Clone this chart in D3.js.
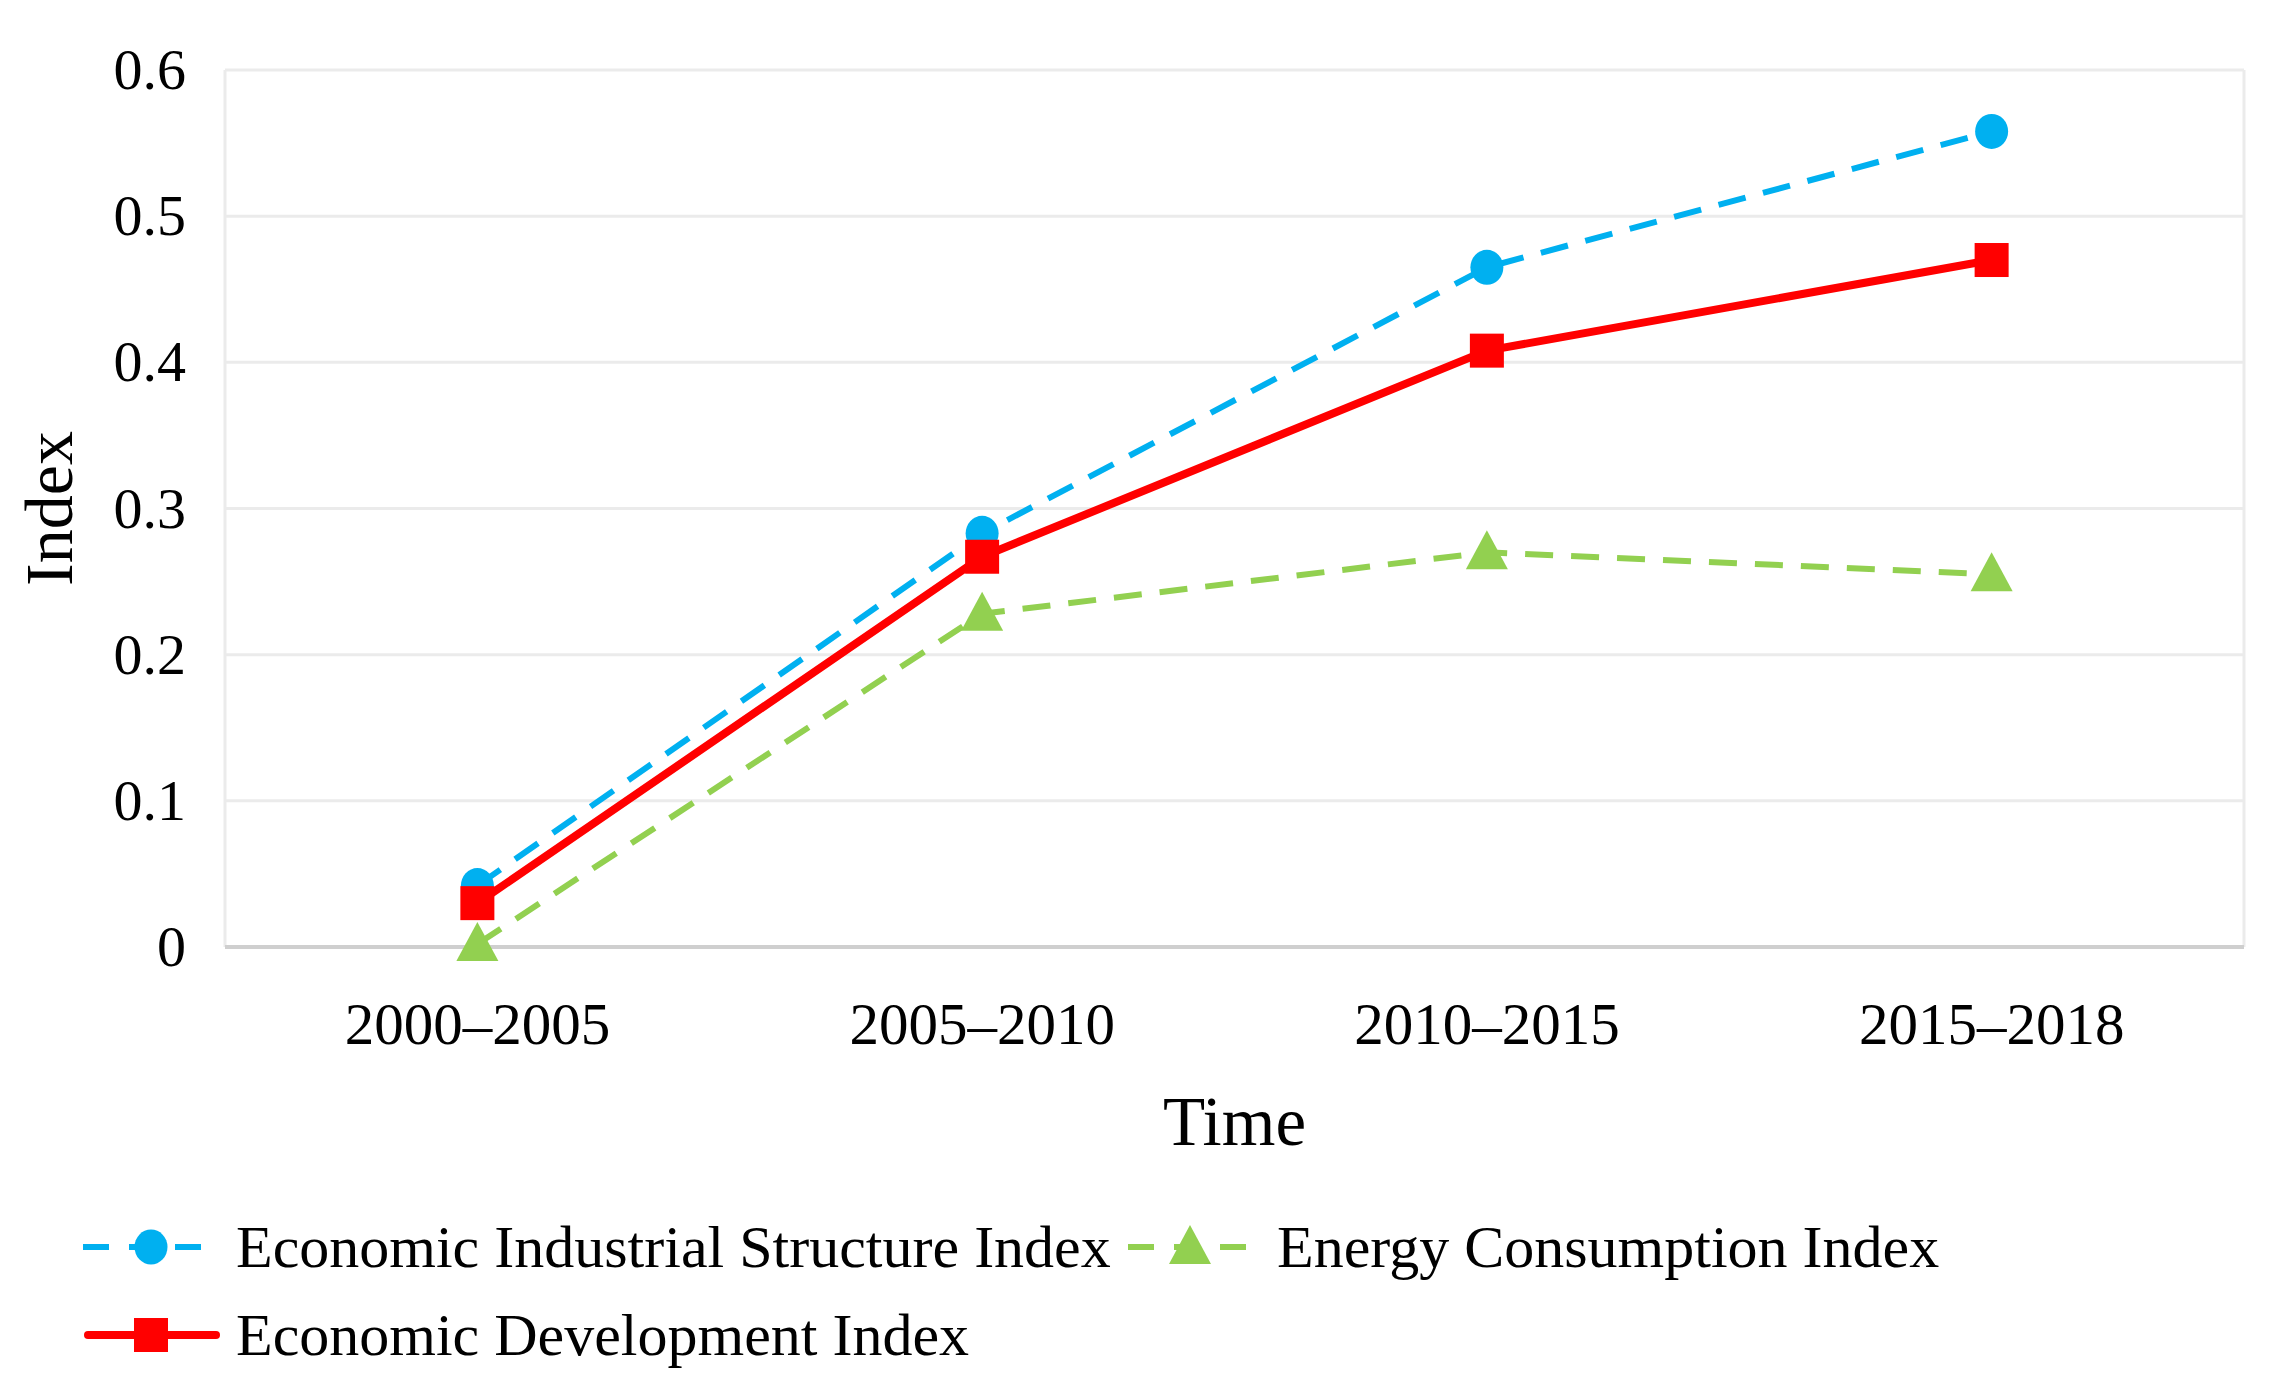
<!DOCTYPE html>
<html>
<head>
<meta charset="utf-8">
<script src="https://cdn.jsdelivr.net/npm/d3@7/dist/d3.min.js"></script>
<style>
  html, body { margin: 0; padding: 0; background: #ffffff; }
  svg { display: block; font-family: "Liberation Serif", "Times New Roman", serif; }
</style>
</head>
<body>
<svg id="chart" width="2273" height="1386"></svg>
<script>
// ---- data ----
const categories = ["2000\u20132005", "2005\u20132010", "2010\u20132015", "2015\u20132018"];
const structureValues = [0.042, 0.283, 0.465, 0.558];
const energyValues = [0.002, 0.228, 0.270, 0.255];
const developmentValues = [0.030, 0.267, 0.408, 0.470];
const yTicks = [0, 0.1, 0.2, 0.3, 0.4, 0.5, 0.6];
const yTickLabels = ["0", "0.1", "0.2", "0.3", "0.4", "0.5", "0.6"];
const seriesNames = ["Economic Industrial Structure Index", "Energy Consumption Index", "Economic Development Index"];

// ---- layout ----
const W = 2273, H = 1386;
const plot = { left: 225, right: 2244, top: 70, bottom: 947 };
const svg = d3.select("#chart");
svg.append("rect").attr("width", W).attr("height", H).attr("fill", "#fff");

const x = d3.scaleBand().domain(categories).range([plot.left, plot.right]).padding(0);
const y = d3.scaleLinear().domain([0, 0.6]).range([plot.bottom, plot.top]);
const cx = d => x(d) + x.bandwidth() / 2;

// gridlines
const gridColor = "#ebebeb";
svg.append("g").selectAll("line").data(yTicks.filter(t => t > 0)).join("line")
  .attr("x1", plot.left).attr("x2", plot.right)
  .attr("y1", d => y(d)).attr("y2", d => y(d))
  .attr("stroke", gridColor).attr("stroke-width", 3);
// plot border left/right
svg.append("line").attr("x1", plot.left).attr("x2", plot.left).attr("y1", plot.top).attr("y2", plot.bottom)
  .attr("stroke", gridColor).attr("stroke-width", 3);
svg.append("line").attr("x1", plot.right).attr("x2", plot.right).attr("y1", plot.top).attr("y2", plot.bottom)
  .attr("stroke", gridColor).attr("stroke-width", 3);
// bottom axis line
svg.append("line").attr("x1", plot.left).attr("x2", plot.right).attr("y1", y(0)).attr("y2", y(0))
  .attr("stroke", "#cfcfcf").attr("stroke-width", 4);

// y axis labels
const yAxis = svg.append("g").attr("transform", `translate(${plot.left},0)`)
  .call(d3.axisLeft(y).tickValues(yTicks).tickSize(0).tickPadding(39)
    .tickFormat((d, i) => yTickLabels[i]));
yAxis.select(".domain").remove();
yAxis.selectAll("text").attr("font-size", 58).attr("fill", "#000")
  .attr("font-family", "'Liberation Serif', 'Times New Roman', serif");

// x axis labels
const xAxis = svg.append("g").attr("transform", `translate(0,${plot.bottom})`)
  .call(d3.axisBottom(x).tickSize(0));
xAxis.select(".domain").remove();
xAxis.selectAll("text").attr("font-size", 59).attr("fill", "#000")
  .attr("y", 97).attr("dy", 0)
  .attr("font-family", "'Liberation Serif', 'Times New Roman', serif");

// axis titles
svg.append("text").attr("x", (plot.left + plot.right) / 2).attr("y", 1145)
  .attr("text-anchor", "middle").attr("font-size", 69).attr("fill", "#000").text("Time");
svg.append("text").attr("transform", `translate(72,${(plot.top + plot.bottom) / 2}) rotate(-90)`)
  .attr("text-anchor", "middle").attr("font-size", 68).attr("fill", "#000").text("Index");

// series
const series = [
  { name: seriesNames[0], values: structureValues, color: "#00B0F0", dash: "28,18", width: 6, marker: "circle" },
  { name: seriesNames[1], values: energyValues, color: "#92D050", dash: "28,18", width: 6, marker: "triangle" },
  { name: seriesNames[2], values: developmentValues, color: "#FF0000", dash: null, width: 8, marker: "square" }
];

const line = d3.line().x(d => cx(d.c)).y(d => y(d.v));

function drawMarker(g, type, px, py, color) {
  if (type === "circle") {
    g.append("ellipse").attr("cx", px).attr("cy", py).attr("rx", 16.5).attr("ry", 17.5).attr("fill", color);
  } else if (type === "square") {
    g.append("rect").attr("x", px - 17).attr("y", py - 17).attr("width", 34).attr("height", 34).attr("fill", color);
  } else {
    g.append("path").attr("d", `M${px},${py - 22}L${px + 21},${py + 17}L${px - 21},${py + 17}Z`).attr("fill", color);
  }
}

series.forEach(s => {
  const pts = categories.map((c, i) => ({ c, v: s.values[i] }));
  const g = svg.append("g");
  g.append("path").datum(pts).attr("d", line).attr("fill", "none")
    .attr("stroke", s.color).attr("stroke-width", s.width)
    .attr("stroke-dasharray", s.dash).attr("stroke-linejoin", "round");
  pts.forEach(p => drawMarker(g, s.marker, cx(p.c), y(p.v), s.color));
});

// legend
const legendItems = [
  { s: series[0], x0: 83, x1: 203, mx: 151, ty: 1267, tx: 236 },
  { s: series[1], x0: 1128, x1: 1248, mx: 1190, ty: 1267, tx: 1277 },
  { s: series[2], x0: 88, x1: 216, mx: 151, ty: 1355, tx: 236 }
];
legendItems.forEach(it => {
  const g = svg.append("g");
  const ly = it.ty - 20;
  g.append("line").attr("x1", it.x0).attr("x2", it.x1).attr("y1", ly).attr("y2", ly)
    .attr("stroke", it.s.color).attr("stroke-width", it.s.width)
    .attr("stroke-dasharray", it.s.dash ? "26,20" : null)
    .attr("stroke-linecap", it.s.dash ? "butt" : "round");
  drawMarker(g, it.s.marker, it.mx, ly, it.s.color);
  g.append("text").attr("x", it.tx).attr("y", it.ty).attr("font-size", 60).attr("fill", "#000").text(it.s.name);
});
</script>
</body>
</html>
